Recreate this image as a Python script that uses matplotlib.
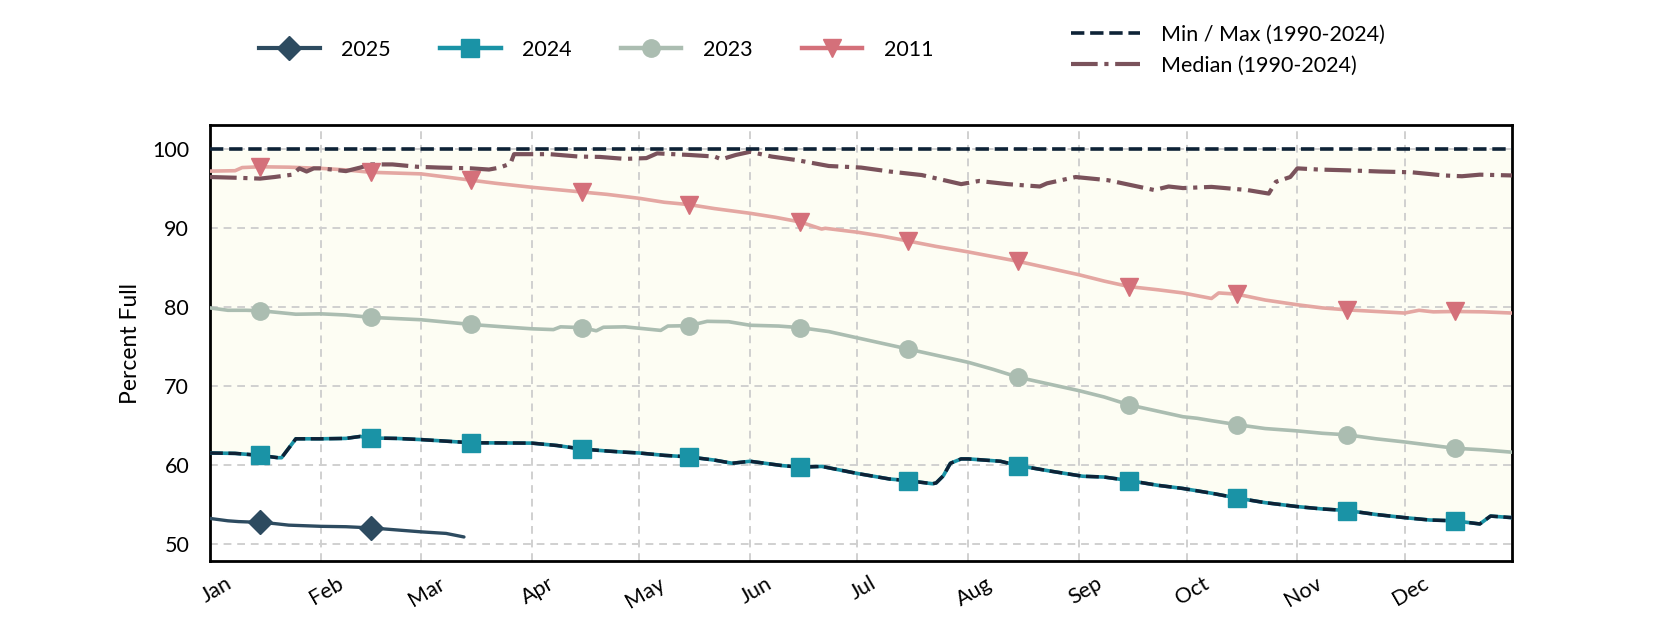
import matplotlib
matplotlib.use("Agg")
import matplotlib.pyplot as plt
from matplotlib.lines import Line2D
from matplotlib.transforms import ScaledTranslation

plt.rcParams['font.family'] = ['Lato', 'DejaVu Sans']

# ---------------- data (day of year index, 0 = Jan 1) ----------------
month_labels = ["Jan", "Feb", "Mar", "Apr", "May", "Jun",
                "Jul", "Aug", "Sep", "Oct", "Nov", "Dec"]
month_starts = [0, 31, 59, 90, 120, 151, 181, 212, 243, 273, 304, 334]
mid_month_days = [14, 45, 73, 104, 134, 165, 195, 226, 257, 287, 318, 348]

days_2025 = [0, 5, 8, 14, 18, 22, 31, 38, 45, 52, 59, 66, 71]
vals_2025 = [53.2, 52.9, 52.8, 52.7, 52.55, 52.35, 52.2, 52.15, 52.0, 51.75, 51.5, 51.3, 50.85]

days_2024 = [0, 7, 14, 19, 20, 24, 31, 38, 42, 45, 52, 59, 66, 73, 90, 97, 104,
             111, 116, 120, 127, 134, 141, 146, 151, 160, 165, 171, 181, 190,
             195, 202, 203, 205, 207, 210, 212, 221, 226, 235, 244, 250, 257,
             265, 272, 280, 287, 295, 304, 311, 318, 326, 334, 341, 348, 355,
             358, 364]
vals_2024 = [61.5, 61.45, 61.2, 60.9, 60.9, 63.3, 63.3, 63.35, 63.6, 63.4, 63.35,
             63.2, 63.0, 62.8, 62.75, 62.45, 62.0, 61.75, 61.6, 61.5, 61.2, 61.0,
             60.6, 60.2, 60.45, 59.9, 59.7, 59.8, 58.9, 58.2, 58.0, 57.6, 57.7,
             58.6, 60.2, 60.75, 60.75, 60.45, 59.9, 59.2, 58.55, 58.45, 58.0,
             57.4, 57.0, 56.4, 55.8, 55.2, 54.7, 54.4, 54.2, 53.7, 53.3, 53.0,
             52.9, 52.5, 53.5, 53.3]

days_2023 = [0, 5, 10, 14, 24, 31, 38, 45, 52, 59, 66, 73, 82, 90, 96, 98, 104,
             108, 110, 116, 126, 128, 134, 139, 145, 151, 159, 165, 173, 181,
             188, 195, 203, 212, 219, 226, 234, 243, 250, 257, 265, 272, 276,
             280, 287, 295, 304, 311, 318, 326, 334, 341, 348, 356, 364]
vals_2023 = [79.9, 79.6, 79.6, 79.55, 79.1, 79.15, 79.0, 78.7, 78.55, 78.4, 78.1,
             77.8, 77.5, 77.25, 77.15, 77.5, 77.4, 77.0, 77.45, 77.5, 77.05, 77.6,
             77.65, 78.2, 78.15, 77.7, 77.6, 77.4, 76.9, 76.1, 75.4, 74.7, 73.9,
             73.0, 72.1, 71.1, 70.3, 69.4, 68.6, 67.6, 66.8, 66.1, 65.9, 65.6,
             65.1, 64.6, 64.3, 64.0, 63.8, 63.3, 62.9, 62.5, 62.1, 61.9, 61.6]

days_2011 = [0, 7, 9, 14, 22, 31, 38, 45, 52, 59, 66, 73, 80, 90, 97, 104, 111,
             120, 127, 134, 141, 151, 158, 165, 171, 172, 181, 188, 195, 203,
             212, 219, 226, 234, 243, 250, 257, 265, 272, 280, 282, 287, 295,
             304, 311, 318, 326, 334, 338, 342, 348, 356, 364]
vals_2011 = [97.25, 97.3, 97.7, 97.8, 97.75, 97.6, 97.4, 97.1, 97.0, 96.9, 96.5,
             96.1, 95.7, 95.2, 94.9, 94.6, 94.3, 93.8, 93.3, 93.0, 92.5, 91.9,
             91.4, 90.8, 89.9, 90.0, 89.5, 89.0, 88.4, 87.7, 87.0, 86.4, 85.8,
             85.0, 84.1, 83.3, 82.6, 82.2, 81.8, 81.1, 81.8, 81.65, 80.9, 80.3,
             79.9, 79.65, 79.45, 79.25, 79.6, 79.4, 79.45, 79.4, 79.25]

days_median = [0, 8, 14, 18, 23, 25, 27, 29, 31, 38, 42, 45, 51, 58, 64, 73, 78,
               81, 84, 85, 91, 95, 103, 109, 116, 122, 125, 134, 141, 143, 147,
               151, 157, 164, 173, 182, 190, 199, 210, 215, 223, 232, 234, 242,
               251, 264, 268, 272, 280, 290, 296, 298, 302, 304, 310, 318, 327,
               336, 345, 350, 355, 364]
vals_median = [96.5, 96.4, 96.3, 96.5, 96.8, 97.6, 97.2, 97.6, 97.6, 97.25, 97.7,
               98.1, 98.1, 97.8, 97.7, 97.6, 97.45, 97.7, 98.2, 99.4, 99.4, 99.4,
               99.1, 99.05, 98.8, 98.9, 99.5, 99.3, 99.1, 98.75, 99.3, 99.7, 99.1,
               98.65, 97.9, 97.7, 97.2, 96.75, 95.6, 96.0, 95.6, 95.3, 95.7, 96.5,
               96.1, 94.85, 95.3, 95.1, 95.25, 94.85, 94.4, 95.9, 96.5, 97.6,
               97.45, 97.35, 97.2, 97.1, 96.7, 96.6, 96.8, 96.7]

# record minimum (1990-2024) follows the 2024 curve; maximum is 100 %
days_min = list(days_2024)
vals_min = list(vals_2024)
days_max = [0, 364]
vals_max = [100.0, 100.0]

# ---------------- styles ----------------
series = [
    ("2011", days_2011, vals_2011, "#e4a7a2", "#d4707a", "v", 12.5, 2.6),
    ("2023", days_2023, vals_2023, "#abbdb1", "#abbdb1", "o", 12.5, 2.6),
    ("2024", days_2024, vals_2024, "#1a93a6", "#1a93a6", "s", 12.5, 2.6),
    ("2025", days_2025, vals_2025, "#2d4b60", "#2d4b60", "D", 12.0, 2.4),
]

fig = plt.figure(figsize=(16.8, 6.3), dpi=100)
ax = fig.add_axes([0.125, 0.1095, 0.775, 0.6921])

ax.fill_between(days_min, vals_min, 100.0, color="#fdfdf3", zorder=1, lw=0)

handles = {}
for name, d, v, lc, mc, mk, ms, lw in series:
    ax.plot(d, v, color=lc, lw=lw, zorder=3, solid_capstyle="round")
    md = [x for x in d if x in mid_month_days]
    mv = [v[i] for i, x in enumerate(d) if x in mid_month_days]
    ax.plot(md, mv, ls="none", marker=mk, ms=ms, color=mc, zorder=6)
    handles[name] = Line2D([], [], color=mc, lw=lw + 0.6, marker=mk, ms=ms)

ax.plot(days_median, vals_median, color="#7a525b", lw=3.0, ls="-.", zorder=4)
ax.plot(days_max, vals_max, color="#0e2236", lw=2.6, ls="--", zorder=5)
ax.plot(days_min, vals_min, color="#0e2236", lw=2.5, ls="--", zorder=5)

ax.set_xlim(0, 364)
ax.set_ylim(47.8, 103.1)
ax.set_xticks(month_starts)
ax.set_xticklabels(month_labels, rotation=30, ha="center", fontsize=15.5)
ax.set_yticks([50, 60, 70, 80, 90, 100])
ax.tick_params(axis="y", length=0, pad=15, labelsize=15.5)
ax.tick_params(axis="x", length=0, pad=9, labelsize=15.5)
ax.set_ylabel("Percent Full", fontsize=16.5, labelpad=8)

shift = ScaledTranslation(6 / 100, 0, fig.dpi_scale_trans)
for lab in ax.get_xticklabels():
    lab.set_transform(lab.get_transform() + shift)

ax.grid(True, color="#d0d0d0", lw=1.4, ls=(0, (4, 3)))
for s in ax.spines.values():
    s.set_linewidth(2.0)
    s.set_color("black")

leg1 = fig.legend([handles[n] for n in ["2025", "2024", "2023", "2011"]],
                  ["2025", "2024", "2023", "2011"],
                  loc="center", bbox_to_anchor=(0.355, 0.921), ncol=4,
                  frameon=False, fontsize=15.5, handlelength=2.8,
                  handletextpad=1.0, columnspacing=2.3, borderpad=0,
                  borderaxespad=0)
h_min = Line2D([], [], color="#0e2236", lw=2.6, ls="--")
h_med = Line2D([], [], color="#7a525b", lw=3.0, ls="-.")
leg2 = fig.legend([h_min, h_med], ["Min / Max (1990-2024)", "Median (1990-2024)"],
                  loc="center left", bbox_to_anchor=(0.6375, 0.92),
                  frameon=False, fontsize=15.5, handlelength=3.2,
                  handletextpad=1.0, labelspacing=0.5, borderpad=0,
                  borderaxespad=0)

fig.savefig("out.png", dpi=100, facecolor="white")
